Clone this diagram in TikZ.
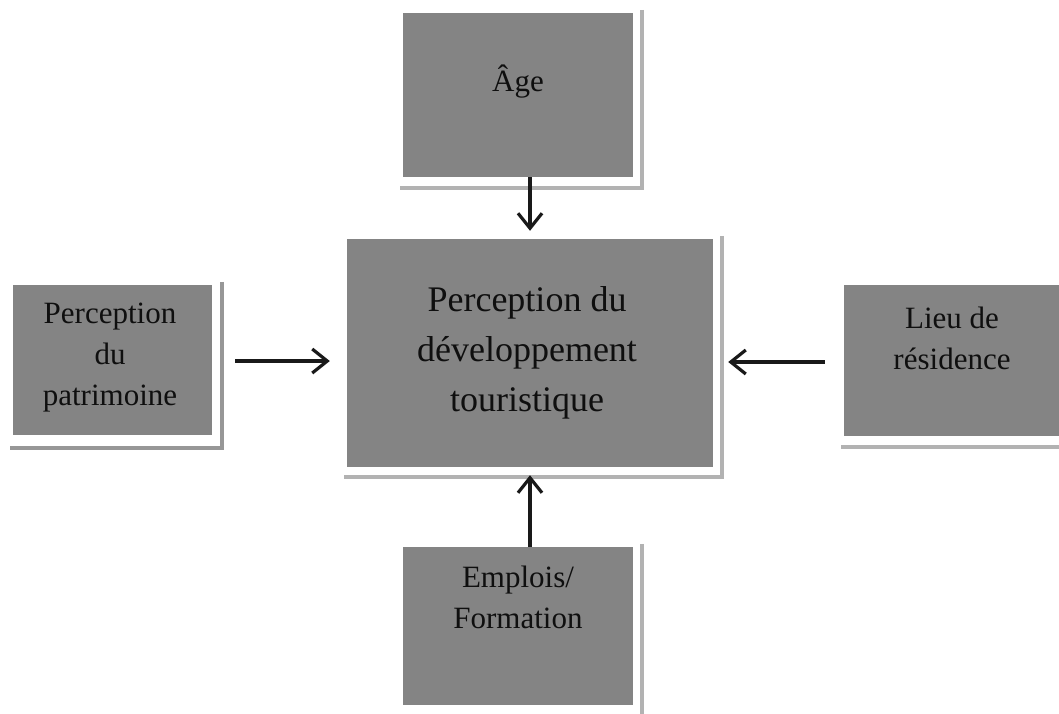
\documentclass[tikz,border=0pt]{standalone}
\usepackage{fontspec}
\setmainfont{Liberation Serif}
\usetikzlibrary{arrows.meta}
\definecolor{boxgray}{RGB}{132,132,132}
\definecolor{shadowgray}{RGB}{178,178,178}
\definecolor{txt}{RGB}{15,15,15}
\tikzset{
  box/.style={draw=none, fill=boxgray, inner sep=0pt},
  lbl/.style={align=center, text=txt, inner sep=0pt},
  small/.style={font=\fontsize{31}{41}\selectfont},
  big/.style={font=\fontsize{36}{50}\selectfont},
  shad/.style={draw=shadowgray, line width=3.5pt},
  arr/.style={draw=black!90, line width=3.2pt, -{Straight Barb[length=15pt,width=24pt,line width=3.2pt]}},
}
\begin{document}
\begin{tikzpicture}[x=1pt,y=-1pt]
\useasboundingbox (0,0) rectangle (1059,713);
% boxes
\node[box, minimum width=230, minimum height=164] (age) at (518,95) {};
\node[box, minimum width=366, minimum height=228] (mid) at (530,353) {};
\node[box, minimum width=199, minimum height=150] (left) at (112.5,360) {};
\node[box, minimum width=230, minimum height=151] (right) at (959,360.5) {};
\node[box, minimum width=230, minimum height=158] (bot) at (518,626) {};
% shadows
\draw[shad] ([xshift=9pt,yshift=3pt]age.north east) -- ([xshift=9pt,yshift=-11pt]age.south east) -- ([xshift=-3pt,yshift=-11pt]age.south west);
\draw[shad] ([xshift=9pt,yshift=3pt]mid.north east) -- ([xshift=9pt,yshift=-10pt]mid.south east) -- ([xshift=-3pt,yshift=-10pt]mid.south west);
\draw[shad, draw=shadowgray!85!black] ([xshift=10pt,yshift=3pt]left.north east) -- ([xshift=10pt,yshift=-13pt]left.south east) -- ([xshift=-3pt,yshift=-13pt]left.south west);
\draw[shad] ([yshift=-11pt]right.south east) -- ([xshift=-3pt,yshift=-11pt]right.south west);
\draw[shad] ([xshift=9pt,yshift=3pt]bot.north east) -- ([xshift=9pt,yshift=-12pt]bot.south east);
% labels
\node[lbl, small] (agetxt) at (518,82) {Âge};
\node[lbl, big] (midtxt) at (527,353) {Perception du\\développement\\touristique};
\node[lbl, small] (lefttxt) at (110,358) {Perception\\du\\patrimoine};
\node[lbl, small] (righttxt) at (952,338) {Lieu de\\résidence};
\node[lbl, small] (bottxt) at (518,597) {Emplois/\\Formation};
% arrows
\draw[arr, shorten >=8pt] (age.south -| mid.north) -- (mid.north);
\draw[arr, shorten >=8pt] (bot.north -| mid.south) -- (mid.south);
\draw[arr, shorten <=23pt, shorten >=17pt] (left.east |- 0,361) -- (mid.west |- 0,361);
\draw[arr, shorten <=19pt, shorten >=15pt] (right.west |- 0,362) -- (mid.east |- 0,362);
\end{tikzpicture}
\end{document}
